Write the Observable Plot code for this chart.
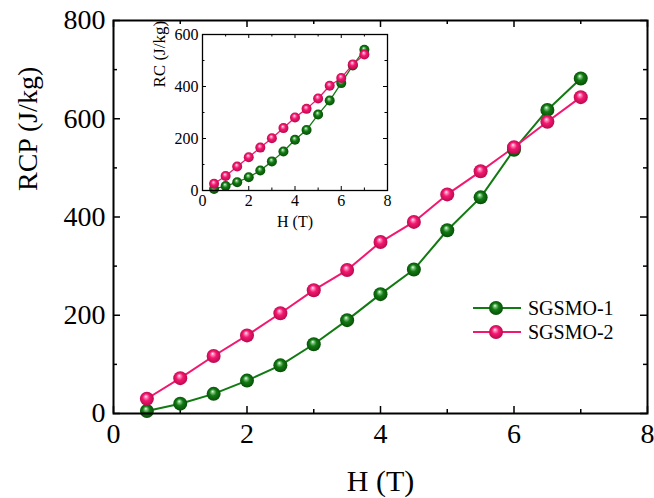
<!DOCTYPE html>
<html>
<head>
<meta charset="utf-8">
<script src="https://cdn.jsdelivr.net/npm/d3@7"></script>
<script src="https://cdn.jsdelivr.net/npm/@observablehq/plot@0.6"></script>
<style>
  body { margin: 0; background: #fff; }
  #wrap { position: relative; width: 654px; height: 498px; font-family: "Liberation Serif", "Times New Roman", serif; overflow: hidden; }
  #wrap > * { position: absolute; }
  .leg { display: flex; align-items: center; height: 24px; font-size: 20px; color: #000; }
  .leg svg { margin-right: 6px; }
</style>
</head>
<body>
<svg width="0" height="0" style="position:absolute">
  <defs>
    <radialGradient id="gGreen" cx="0.5" cy="0.5" r="0.55" fx="0.42" fy="0.32">
      <stop offset="0" stop-color="#f2fff2"/>
      <stop offset="0.18" stop-color="#7cc47c"/>
      <stop offset="0.45" stop-color="#127a12"/>
      <stop offset="1" stop-color="#064806"/>
    </radialGradient>
    <radialGradient id="gPink" cx="0.5" cy="0.5" r="0.55" fx="0.42" fy="0.32">
      <stop offset="0" stop-color="#fff0f6"/>
      <stop offset="0.18" stop-color="#ff86b8"/>
      <stop offset="0.45" stop-color="#f41770"/>
      <stop offset="1" stop-color="#b00848"/>
    </radialGradient>
  </defs>
</svg>
<div id="wrap"></div>
<script>
// ---- data ----
const fieldH = [0.5, 1, 1.5, 2, 2.5, 3, 3.5, 4, 4.5, 5, 5.5, 6, 6.5, 7];
const seriesNames = ["SGSMO-1", "SGSMO-2"];
const seriesColors = ["#127a12", "#f41770"];
const seriesFills = ["url(#gGreen)", "url(#gPink)"];
// main panel: RCP (J/kg)
const rcp1 = [5, 20, 40, 67, 98, 141, 190, 243, 293, 373, 440, 537, 618, 682];
const rcp2 = [30, 72, 117, 159, 204, 251, 292, 349, 390, 446, 493, 542, 594, 644];
// inset: RC (J/kg)
const rc1 = [6, 17, 32, 51, 77, 112, 150, 195, 233, 292, 346, 413, 481, 541];
const rc2 = [26, 56, 92, 128, 165, 201, 240, 281, 314, 354, 403, 433, 485, 523];
// ticks
const xMajor = [0, 2, 4, 6, 8];
const xMinor = [1, 3, 5, 7];
const yMajorMain = [0, 200, 400, 600, 800];
const yMinorMain = [100, 300, 500, 700];
const yMajorInset = [0, 200, 400, 600];
const yMinorInset = [100, 300, 500];

const mainRows = fieldH.flatMap((h, i) => [
  {h, v: rcp1[i], s: seriesNames[0]},
  {h, v: rcp2[i], s: seriesNames[1]}
]);
const insetRows = fieldH.flatMap((h, i) => [
  {h, v: rc1[i], s: seriesNames[0]},
  {h, v: rc2[i], s: seriesNames[1]}
]);

function frameTicks(innerW, innerH, xMaj, xMin, yMaj, yMin, majLen, minLen, sw) {
  const o = {stroke: "#000", strokeWidth: sw};
  return [
    Plot.tickX(xMaj, {x: d => d, insetTop: innerH - majLen, ...o}),
    Plot.tickX(xMin, {x: d => d, insetTop: innerH - minLen, ...o}),
    Plot.tickX(xMaj, {x: d => d, insetBottom: innerH - majLen, ...o}),
    Plot.tickX(xMin, {x: d => d, insetBottom: innerH - minLen, ...o}),
    Plot.tickY(yMaj, {y: d => d, insetRight: innerW - majLen, ...o}),
    Plot.tickY(yMin, {y: d => d, insetRight: innerW - minLen, ...o}),
    Plot.tickY(yMaj, {y: d => d, insetLeft: innerW - majLen, ...o}),
    Plot.tickY(yMin, {y: d => d, insetLeft: innerW - minLen, ...o})
  ];
}

function seriesMarks(rows, r, lw) {
  return seriesNames.flatMap((name, i) => {
    const d = rows.filter(row => row.s === name);
    return [Plot.line(d, {x: "h", y: "v", stroke: seriesColors[i], strokeWidth: lw})];
  }).concat(seriesNames.map((name, i) => {
    const d = rows.filter(row => row.s === name);
    return Plot.dot(d, {x: "h", y: "v", r, fill: seriesFills[i], stroke: "none"});
  }));
}

// ---- main chart ----
const M = {left: 113, right: 7, top: 20, bottom: 85};
const W = 654, Hh = 498;
const iW = W - M.left - M.right, iH = Hh - M.top - M.bottom;
const main = Plot.plot({
  width: W, height: Hh,
  marginLeft: M.left, marginRight: M.right, marginTop: M.top, marginBottom: M.bottom,
  x: {domain: [0, 8]},
  y: {domain: [0, 800]},
  style: {fontFamily: "'Liberation Serif', 'Times New Roman', serif", color: "#000", background: "transparent", overflow: "visible"},
  marks: [
    ...frameTicks(iW, iH, xMajor, xMinor, yMajorMain, yMinorMain, 7, 4, 1.5),
    Plot.axisX({ticks: xMajor, tickSize: 0, tickPadding: 10, fontSize: 28, label: null}),
    Plot.axisY({ticks: yMajorMain, tickSize: 0, tickPadding: 8, fontSize: 28, label: null}),
    Plot.text(["H (T)"], {frameAnchor: "bottom", text: d => d, dy: 68, fontSize: 30, lineAnchor: "middle"}),
    Plot.text(["RCP (J/kg)"], {frameAnchor: "left", text: d => d, dx: -85, dy: -26, rotate: -90, fontSize: 28, lineAnchor: "middle"}),
    ...seriesMarks(mainRows, 7, 2),
    Plot.frame({stroke: "#000", strokeWidth: 2})
  ]
});
main.style.left = "0px"; main.style.top = "0px";
document.getElementById("wrap").appendChild(main);

// ---- inset ----
const IM = {left: 52, right: 8, top: 14, bottom: 40};
const IW = 245, IH = 210;
const iiW = IW - IM.left - IM.right, iiH = IH - IM.top - IM.bottom;
const inset = Plot.plot({
  width: IW, height: IH,
  marginLeft: IM.left, marginRight: IM.right, marginTop: IM.top, marginBottom: IM.bottom,
  x: {domain: [0, 8]},
  y: {domain: [0, 600]},
  style: {fontFamily: "'Liberation Serif', 'Times New Roman', serif", color: "#000", background: "transparent", overflow: "visible"},
  marks: [
    ...frameTicks(iiW, iiH, xMajor, xMinor, yMajorInset, yMinorInset, 4, 2.5, 1),
    Plot.axisX({ticks: xMajor, tickSize: 0, tickPadding: 4, fontSize: 16, label: null}),
    Plot.axisY({ticks: yMajorInset, tickSize: 0, tickPadding: 4, fontSize: 16, label: null}),
    Plot.text(["H (T)"], {frameAnchor: "bottom", text: d => d, dy: 31, fontSize: 16, lineAnchor: "middle"}),
    Plot.text(["RC (J/kg)"], {frameAnchor: "left", text: d => d, dx: -43, dy: -25, rotate: -90, fontSize: 17, lineAnchor: "middle"}),
    ...seriesMarks(insetRows, 5, 1.3),
    Plot.frame({stroke: "#000", strokeWidth: 1.3})
  ]
});
inset.style.left = "150px"; inset.style.top = "20px";
document.getElementById("wrap").appendChild(inset);

// ---- legend ----
const leg = document.createElement("div");
leg.style.left = "472px"; leg.style.top = "296px";
seriesNames.forEach((name, i) => {
  const row = document.createElement("div");
  row.className = "leg";
  row.innerHTML = `<svg width="50" height="24"><line x1="1" x2="49" y1="12" y2="12" stroke="${seriesColors[i]}" stroke-width="2"/><circle cx="24" cy="12" r="7" fill="${seriesFills[i]}"/></svg><span>${name}</span>`;
  leg.appendChild(row);
});
document.getElementById("wrap").appendChild(leg);
</script>
</body>
</html>
